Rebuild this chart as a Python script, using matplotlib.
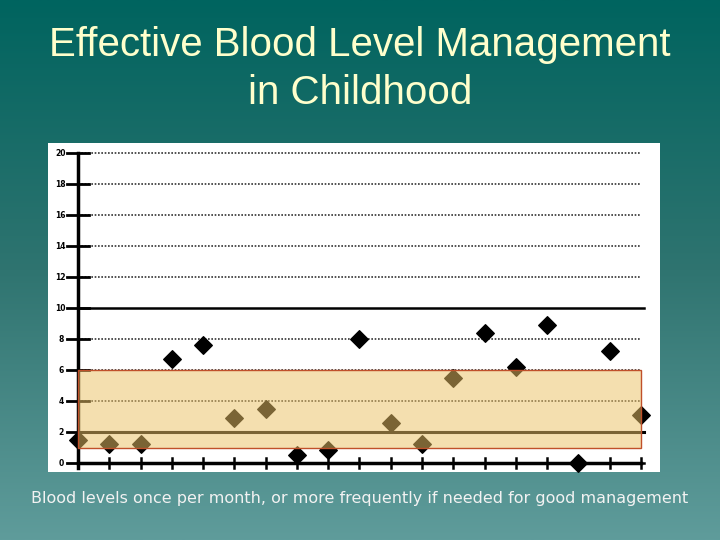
import matplotlib
matplotlib.use("Agg")
import matplotlib.pyplot as plt
import numpy as np
from matplotlib.colors import LinearSegmentedColormap
from matplotlib.patches import Rectangle

# monthly blood levels
months = list(range(19))
levels = [1.5, 1.2, 1.2, 6.7, 7.6, 2.9, 3.5, 0.5, 0.85, 8.0, 2.6, 1.2,
          5.5, 8.4, 6.2, 8.9, 0.0, 7.2, 3.1]
y_ticks = [0, 2, 4, 6, 8, 10, 12, 14, 16, 18, 20]
solid_lines = [0, 2, 10]
target_low, target_high = 1, 6

TITLE = "Effective Blood Level Management\nin Childhood"
CAPTION = "Blood levels once per month, or more frequently if needed for good management"

fig = plt.figure(figsize=(7.2, 5.4), dpi=100)

# slide background gradient
bg = fig.add_axes([0, 0, 1, 1])
cmap = LinearSegmentedColormap.from_list("slide", ["#00645f", "#2f7470", "#5f9c9b"])
bg.imshow(np.linspace(0, 1, 256).reshape(-1, 1), aspect="auto", cmap=cmap,
          extent=[0, 1, 0, 1])
bg.set_axis_off()

fig.text(0.5, 0.872, TITLE, ha="center", va="center", color="#ffffcc",
         fontsize=29, family="Liberation Sans", linespacing=1.32)
fig.text(0.5, 0.076, CAPTION, ha="center", va="center", color="#f2f2f2",
         fontsize=11.5, family="DejaVu Sans")

# chart panel (white)
ax = fig.add_axes([48 / 720, 68 / 540, 612 / 720, 329 / 540])
ax.set_facecolor("white")
ax.set_xlim(-0.96, 18.61)
ax.set_ylim(-0.58, 20.65)
ax.set_xticks([])
ax.set_yticks([])
for s in ax.spines.values():
    s.set_visible(False)

x_end = months[-1]
for y in y_ticks:
    if y in solid_lines:
        ax.plot([0, x_end + 0.1], [y, y], color="black", lw=1.8 if y != 2 else 2.2, zorder=1)
    else:
        ax.plot([0, x_end], [y, y], color="#333333", lw=1.2, ls=(0, (1, 1)), zorder=1)
    ax.plot([-0.35, 0.35], [y, y], color="black", lw=2, zorder=2)
    ax.text(-0.55, y, str(y), ha="center", va="center", fontsize=5.5,
            fontweight="bold", color="black", zorder=2)

# axes lines + x ticks
ax.plot([0, 0], [-0.3, 20], color="black", lw=2.5, zorder=2)
ax.plot([0, x_end], [0, 0], color="black", lw=2.5, zorder=2)
for m in months:
    ax.plot([m, m], [-0.35, 0.35], color="black", lw=1.8, zorder=2)

ax.scatter(months, levels, marker="D", s=80, color="black", zorder=3)

# target band overlays the points
ax.add_patch(Rectangle((0, target_low), x_end, target_high - target_low,
                       facecolor="#ebc266", alpha=0.52, edgecolor="none", zorder=4))
ax.add_patch(Rectangle((0, target_low), x_end, target_high - target_low,
                       facecolor="none", edgecolor="#c0502a", lw=1, zorder=5))

fig.savefig("out.png", dpi=100)
